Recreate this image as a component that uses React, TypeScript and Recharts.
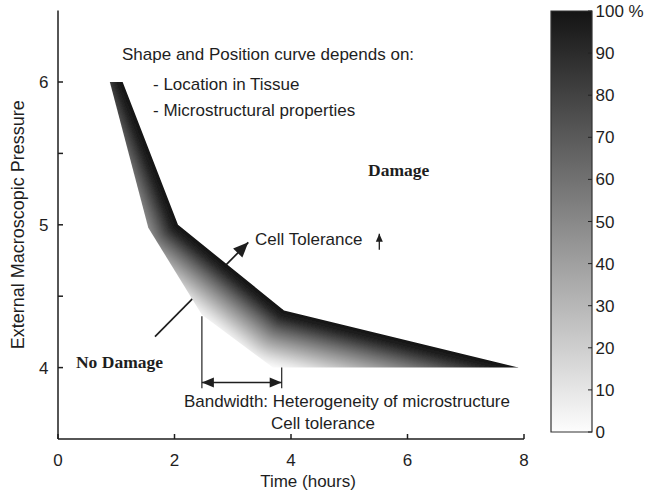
// Damage threshold band: pressure vs. time, shaded by percentile, with colour scale
import React from 'react';
import { ComposedChart, BarChart, Bar, Line, XAxis, YAxis, ReferenceDot } from 'recharts';

// edges of the tolerance band (time in hours, pressure)
const rightEdge = [
  { x: 0.89, y: 6 },
  { x: 1.11, y: 6 },
  { x: 2.06, y: 5 },
  { x: 3.88, y: 4.4 },
  { x: 7.9, y: 4 },
];
const leftEdge = [
  { x: 0.89, y: 6 },
  { x: 1.55, y: 4.98 },
  { x: 2.47, y: 4.37 },
  { x: 3.69, y: 4 },
  { x: 7.9, y: 4 },
];

// arrows and bandwidth marker
const toleranceArrow = [{ x: 1.665, y: 4.217 }, { x: 3.267, y: 4.877 }];
const damageArrow = [{ x: 5.516, y: 4.826 }, { x: 5.516, y: 4.938 }];
const bandLeftLine = [{ x: 2.47, y: 4.36 }, { x: 2.47, y: 3.855 }];
const bandRightLine = [{ x: 3.84, y: 4.41 }, { x: 3.84, y: 3.855 }];
const bandSpan = [{ x: 2.47, y: 3.895 }, { x: 3.84, y: 3.895 }];

const xTicks = [0, 2, 4, 6, 8];
const yTicks = [4, 4.5, 5, 5.5, 6];
const scaleTicks = [0, 10, 20, 30, 40, 50, 60, 70, 80, 90, 100];
const scaleBar = [{ name: 'scale', value: 100 }];

const annotations = [
  { text: 'Shape and Position curve depends on:', x: 1.099, y: 6.155, bold: false },
  { text: '- Location in Tissue', x: 1.631, y: 5.945, bold: false },
  { text: '- Microstructural properties', x: 1.631, y: 5.763, bold: false },
  { text: 'Damage', x: 5.322, y: 5.344, bold: true },
  { text: 'Cell Tolerance', x: 3.382, y: 4.861, bold: false },
  { text: 'No Damage', x: 0.309, y: 4.0, bold: true },
  { text: 'Bandwidth: Heterogeneity of microstructure', x: 2.163, y: 3.727, bold: false },
  { text: 'Cell tolerance', x: 3.657, y: 3.573, bold: false },
];

const SANS = '"Liberation Sans", Arial, Helvetica, sans-serif';
const SERIF = '"Liberation Serif", "Times New Roman", serif';
const INK = '#1e1e1e';

// stroke width / grey pairs: shading fades with distance from the right edge
const shades: [number, string][] = [
  [120, '#fcfcfc'],
  [112, '#f0f0f0'],
  [104, '#e3e3e3'],
  [96, '#d3d3d3'],
  [88, '#c2c2c2'],
  [80, '#b1b1b1'],
  [72, '#a0a0a0'],
  [64, '#8f8f8f'],
  [56, '#7d7d7d'],
  [48, '#6b6b6b'],
  [40, '#575757'],
  [32, '#424242'],
  [24, '#2e2e2e'],
  [16, '#1e1e1e'],
  [8, '#121212'],
];

// dots get called once per point; keep pixel positions when `points` isn't passed
const collected: Record<string, { x: number; y: number }[]> = {};
const gather = (key: string, props: any, n: number) => {
  if (props.points && props.points.length === n) {
    return props.index === n - 1 ? props.points : null;
  }
  (collected[key] = collected[key] || [])[props.index] = { x: props.cx, y: props.cy };
  return props.index === n - 1 ? collected[key] : null;
};

const pathOf = (pts: { x: number; y: number }[]) =>
  'M' + pts.map((p) => `${p.x},${p.y}`).join('L');

const renderLeftEdge = (props: any) => {
  const pts = gather('left', props, leftEdge.length);
  if (!pts) return <g key={`le-${props.index}`} />;
  const first = pts[0];
  const last = pts[pts.length - 1];
  const d = `${pathOf(pts)}L${last.x + 500},${last.y}L${last.x + 500},${first.y - 500}L${first.x},${first.y - 500}Z`;
  return (
    <defs key="left-clip">
      <clipPath id="aboveLeft">
        <path d={d} />
      </clipPath>
    </defs>
  );
};

const renderRightEdge = (props: any) => {
  const pts = gather('right', props, rightEdge.length);
  if (!pts) return <g key={`re-${props.index}`} />;
  const first = pts[0];
  const last = pts[pts.length - 1];
  const clip = `${pathOf(pts)}L${last.x},${last.y + 500}L${first.x - 500},${last.y + 500}L${first.x - 500},${first.y}Z`;
  const edge = pathOf(pts.slice(1));
  return (
    <g key="band">
      <defs>
        <clipPath id="belowRight">
          <path d={clip} />
        </clipPath>
        <filter id="soften" x="-20%" y="-20%" width="140%" height="140%">
          <feGaussianBlur stdDeviation={2.5} />
        </filter>
      </defs>
      <g clipPath="url(#aboveLeft)">
        <g clipPath="url(#belowRight)">
          <g filter="url(#soften)">
            {shades.map(([w, c]) => (
              <path
                key={w}
                d={edge}
                fill="none"
                stroke={c}
                strokeWidth={w}
                strokeLinejoin="round"
                strokeLinecap="round"
              />
            ))}
          </g>
        </g>
      </g>
    </g>
  );
};

// filled arrow heads at the end (and optionally the start) of a two-point line
const arrowHead = (key: string, len: number, half: number, both = false) => (props: any) => {
  const pts = gather(key, props, 2);
  if (!pts) return <g key={`${key}-${props.index}`} />;
  const head = (a: any, b: any, k: string) => {
    const dx = b.x - a.x;
    const dy = b.y - a.y;
    const l = Math.hypot(dx, dy) || 1;
    const ux = dx / l;
    const uy = dy / l;
    const bx = b.x - ux * len;
    const by = b.y - uy * len;
    return (
      <polygon
        key={k}
        points={`${b.x},${b.y} ${bx - uy * half},${by + ux * half} ${bx + uy * half},${by - ux * half}`}
        fill={INK}
      />
    );
  };
  return (
    <g key={`${key}-heads`}>
      {head(pts[0], pts[1], 'end')}
      {both && head(pts[1], pts[0], 'start')}
    </g>
  );
};

const yTickLabel = (v: number) => (Number.isInteger(v) ? String(v) : '');
const scaleLabel = (v: number) => (v === 100 ? '100 %' : String(v));

export default function App() {
  return (
    <div style={{ position: 'relative', width: 653, height: 492, background: '#fff', fontFamily: SANS }}>
      <style>{'body{margin:0}'}</style>
      <div style={{ position: 'absolute', left: 0, top: 0 }}>
        <ComposedChart width={653} height={492} margin={{ top: 10.6, right: 129, bottom: 3, left: 0 }}>
          <XAxis
            type="number"
            dataKey="x"
            domain={[0, 8]}
            ticks={xTicks}
            allowDataOverflow
            height={50}
            tickSize={-5}
            tickMargin={20}
            axisLine={{ stroke: INK, strokeWidth: 1.5 }}
            tickLine={{ stroke: INK, strokeWidth: 1.5 }}
            tick={{ fill: INK, fontSize: 17 }}
            label={{ value: 'Time (hours)', position: 'insideBottom', offset: 2, dx: 17, fill: INK, fontSize: 17 }}
          />
          <YAxis
            type="number"
            dataKey="y"
            domain={[3.5, 6.5]}
            ticks={yTicks}
            allowDataOverflow
            width={58}
            tickSize={-5}
            tickMargin={14.5}
            tickFormatter={yTickLabel}
            axisLine={{ stroke: INK, strokeWidth: 1.5 }}
            tickLine={{ stroke: INK, strokeWidth: 1.5 }}
            tick={{ fill: INK, fontSize: 17 }}
            label={{
              value: 'External Macroscopic Pressure',
              angle: -90,
              position: 'insideLeft',
              offset: 18,
              fill: INK,
              fontSize: 18,
              style: { textAnchor: 'middle' },
            }}
          />
          <Line data={leftEdge} dataKey="y" stroke="none" dot={renderLeftEdge} isAnimationActive={false} />
          <Line data={rightEdge} dataKey="y" stroke="none" dot={renderRightEdge} isAnimationActive={false} />
          <Line data={bandLeftLine} dataKey="y" stroke="#333" strokeWidth={1.3} dot={false} isAnimationActive={false} />
          <Line data={bandRightLine} dataKey="y" stroke="#333" strokeWidth={1.3} dot={false} isAnimationActive={false} />
          <Line
            data={bandSpan}
            dataKey="y"
            stroke={INK}
            strokeWidth={1.5}
            dot={arrowHead('span', 12, 5, true)}
            isAnimationActive={false}
          />
          <Line
            data={toleranceArrow}
            dataKey="y"
            stroke={INK}
            strokeWidth={1.7}
            dot={arrowHead('tolerance', 15, 6.5)}
            isAnimationActive={false}
          />
          <Line
            data={damageArrow}
            dataKey="y"
            stroke={INK}
            strokeWidth={1.3}
            dot={arrowHead('damage', 8, 3.5)}
            isAnimationActive={false}
          />
          {annotations.map((a) => (
            <ReferenceDot
              key={a.text}
              x={a.x}
              y={a.y}
              r={0}
              ifOverflow="visible"
              shape={(p: any) => (
                <text
                  x={p.cx}
                  y={p.cy}
                  fill={INK}
                  fontSize={a.bold ? 17.5 : 17}
                  fontWeight={a.bold ? 700 : 400}
                  fontFamily={a.bold ? SERIF : SANS}
                >
                  {a.text}
                </text>
              )}
            />
          ))}
        </ComposedChart>
      </div>
      {/* colour scale: gradient bar underneath, tick marks and labels laid over it */}
      <div style={{ position: 'absolute', left: 540, top: 0 }}>
        <BarChart
          width={113}
          height={460}
          data={scaleBar}
          margin={{ top: 11, right: 61, bottom: 28, left: 11 }}
          barCategoryGap={0}
        >
          <defs>
            <linearGradient id="scaleFill" x1="0" y1="0" x2="0" y2="1">
              <stop offset="0" stopColor="#141414" />
              <stop offset="1" stopColor="#fdfdfd" />
            </linearGradient>
          </defs>
          <XAxis dataKey="name" hide />
          <YAxis domain={[0, 100]} hide />
          <Bar dataKey="value" fill="url(#scaleFill)" stroke="#333" strokeWidth={1.2} isAnimationActive={false} />
        </BarChart>
      </div>
      <div style={{ position: 'absolute', left: 540, top: 0 }}>
        <BarChart
          width={113}
          height={460}
          data={scaleBar}
          margin={{ top: 11, right: 0, bottom: 28, left: 11 }}
          barCategoryGap={0}
        >
          <XAxis dataKey="name" hide />
          <Bar yAxisId="r" dataKey="value" fill="none" stroke="none" isAnimationActive={false} />
          <YAxis
            yAxisId="l"
            orientation="left"
            width={0}
            domain={[0, 100]}
            ticks={scaleTicks}
            tick={false}
            tickSize={-4}
            axisLine={false}
            tickLine={{ stroke: '#222' }}
          />
          <YAxis
            yAxisId="r"
            orientation="right"
            width={61}
            domain={[0, 100]}
            ticks={scaleTicks}
            tickSize={-4}
            tickMargin={7.5}
            axisLine={false}
            tickLine={{ stroke: '#222' }}
            tickFormatter={scaleLabel}
            tick={{ fill: INK, fontSize: 17 }}
          />
        </BarChart>
      </div>
    </div>
  );
}
